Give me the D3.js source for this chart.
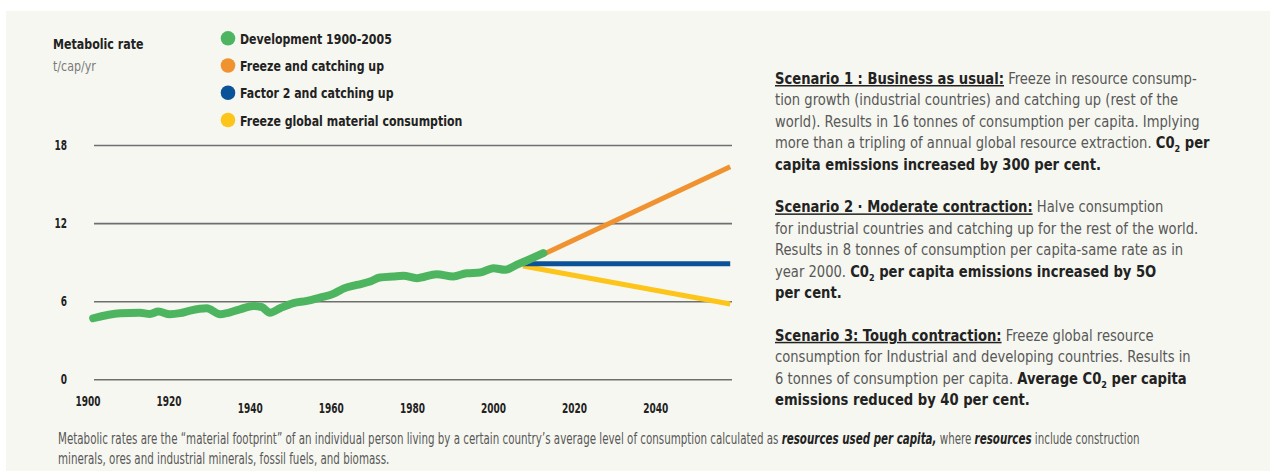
<!DOCTYPE html>
<html>
<head>
<meta charset="utf-8">
<script src="https://cdn.jsdelivr.net/npm/d3@7"></script>
<style>
  html, body { margin: 0; padding: 0; background: #ffffff; }
  svg { display: block; }
  text { font-family: 'DejaVu Sans Condensed', 'DejaVu Sans', sans-serif; }
</style>
</head>
<body>
<script>
// ---- data ----
var devYears = [1901.4, 1908, 1912.9, 1915.4, 1917.5, 1920.3, 1922.8, 1925.3, 1929.4, 1932.7,
                1937.6, 1940.9, 1943, 1945, 1947.5, 1950.8, 1954.1, 1957.3, 1960.6, 1963.1,
                1966.4, 1969.7, 1972.1, 1975.4, 1977.9, 1981.2, 1986.1, 1990.2, 1993.5, 1996.8,
                2000.1, 2003, 2005.8, 2009.1, 2012.4];
var devValues = [4.69, 5.08, 5.12, 5.02, 5.2, 5.0, 5.08, 5.28, 5.46, 5.0,
                 5.38, 5.64, 5.54, 5.12, 5.46, 5.85, 6.02, 6.28, 6.56, 6.97,
                 7.25, 7.51, 7.82, 7.9, 7.95, 7.77, 8.07, 7.9, 8.15, 8.2,
                 8.54, 8.41, 8.79, 9.23, 9.69];

var scenarioYears = [2007.4, 2058.5];
var freezeCatchingUp = [8.87, 16.33];
var factorTwo = [8.87, 8.87];
var freezeGlobal = [8.7, 5.79];

var yTicks = [0, 6, 12, 18];
var xTicks = [1900, 1920, 1940, 1960, 1980, 2000, 2020, 2040];

var legendLabels = ["Development 1900-2005", "Freeze and catching up",
                    "Factor 2 and catching up", "Freeze global material consumption"];
var legendColors = ["#4db560", "#f0922f", "#0a5399", "#fdc41a"];

// scenario text: [style, text] segments per line, [] = blank line
var scenarioLines = [
  [["h", "Scenario 1 : Business as usual:"], ["r", " Freeze in resource consump-"]],
  [["r", "tion growth (industrial countries) and catching up (rest of the"]],
  [["r", "world). Results in 16 tonnes of consumption per capita. Implying"]],
  [["r", "more than a tripling of annual global resource extraction. "], ["b", "C0"], ["s", "2"], ["b", " per"]],
  [["b", "capita emissions increased by 300 per cent."]],
  [],
  [["h", "Scenario 2 · Moderate contraction:"], ["r", " Halve consumption"]],
  [["r", "for industrial countries and catching up for the rest of the world."]],
  [["r", "Results in 8 tonnes of consumption per capita-same rate as in"]],
  [["r", "year 2000. "], ["b", "C0"], ["s", "2"], ["b", " per capita emissions increased by 5O"]],
  [["b", "per cent."]],
  [],
  [["h", "Scenario 3: Tough contraction:"], ["r", " Freeze global resource"]],
  [["r", "consumption for Industrial and developing countries. Results in"]],
  [["r", "6 tonnes of consumption per capita. "], ["b", "Average C0"], ["s", "2"], ["b", " per capita"]],
  [["b", "emissions reduced by 40 per cent."]]
];

var footLines = [
  [["r", "Metabolic rates are the \u201cmaterial footprint\u201d of an individual person living by a certain country\u2019s average level of consumption calculated as "],
   ["i", "resources used per capita,"], ["r", " where "], ["i", "resources"], ["r", " include construction"]],
  [["r", "minerals, ores and industrial minerals, fossil fuels, and biomass."]]
];

// ---- page ----
var W = 1270, H = 471;
var svg = d3.select("body").append("svg")
            .attr("width", W)
            .attr("height", H);

svg.append("rect")
   .attr("x", 6).attr("y", 11)
   .attr("width", W - 6).attr("height", H - 11)
   .attr("fill", "#f6f7f0");

var x = d3.scaleLinear().domain([1900, 2060]).range([87.5, 736.3]);
var y = d3.scaleLinear().domain([0, 18]).range([379.3, 145]);

var gridLeft = 94, gridRight = 732;

// squeeze text horizontally (the original uses a condensed face)
function squeeze (node, k) {
    var x0 = +node.getAttribute("x") || 0;
    d3.select(node).attr("transform", "translate(" + (x0 * (1 - k)) + ",0) scale(" + k + ",1)");
}
function widthOf (node) { return node.getBBox().width; }

// y axis + gridlines
var yAxis = svg.append("g")
               .attr("transform", "translate(" + gridLeft + ",0)")
               .call(d3.axisLeft(y).tickValues(yTicks).tickSize(-(gridRight - gridLeft)).tickPadding(27));
yAxis.select(".domain").remove();
yAxis.selectAll("line")
     .attr("stroke", "#6f6f6f")
     .attr("stroke-width", 1.6);
yAxis.selectAll("text")
     .attr("dy", "0.33em")
     .attr("font-size", 13.7)
     .attr("font-weight", "bold")
     .attr("fill", "#222")
     .style("font-family", "'DejaVu Sans Condensed', sans-serif");

// x axis labels (staggered like the original)
var xAxis = svg.append("g")
               .attr("transform", "translate(0," + y(0) + ")")
               .call(d3.axisBottom(x).tickValues(xTicks).tickSize(0).tickFormat(d3.format("d")));
xAxis.select(".domain").remove();
xAxis.selectAll("text")
     .attr("dy", 0)
     .attr("y", function (d) { return d < 1940 ? 27 : 33.5; })
     .attr("font-size", 13.7)
     .attr("font-weight", "bold")
     .attr("fill", "#222")
     .style("font-family", "'DejaVu Sans Condensed', sans-serif");

var tickK = 25 / widthOf(xAxis.select("text").node());
xAxis.selectAll("text").each(function () { squeeze(this, tickK); });
yAxis.selectAll("text").each(function () { squeeze(this, tickK); });

// lines
var line = d3.line()
             .x(function (d) { return x(d[0]); })
             .y(function (d) { return y(d[1]); });

function drawSeries (years, values, color, width) {
    svg.append("path")
       .datum(d3.zip(years, values))
       .attr("d", line)
       .attr("fill", "none")
       .attr("stroke", color)
       .attr("stroke-width", width)
       .attr("stroke-linejoin", "round");
}

drawSeries(scenarioYears, freezeGlobal, legendColors[3], 5);
drawSeries(scenarioYears, factorTwo, legendColors[2], 5);
drawSeries(scenarioYears, freezeCatchingUp, legendColors[1], 5);

svg.append("path")
   .datum(d3.zip(devYears, devValues))
   .attr("d", line.curve(d3.curveMonotoneX))
   .attr("fill", "none")
   .attr("stroke", legendColors[0])
   .attr("stroke-width", 8)
   .attr("stroke-linecap", "round")
   .attr("stroke-linejoin", "round");

// axis title
var title = svg.append("text")
   .attr("x", 53).attr("y", 49)
   .attr("font-size", 14.5)
   .attr("font-weight", "bold")
   .attr("fill", "#222")
   .text("Metabolic rate");
var unit = svg.append("text")
   .attr("x", 53).attr("y", 71.5)
   .attr("font-size", 14.5)
   .attr("fill", "#7a7a7a")
   .text("t/cap/yr");
var titleK = 90.7 / widthOf(title.node());
squeeze(title.node(), titleK);
squeeze(unit.node(), titleK);

// legend
var legendY = d3.scaleLinear().domain([0, 3]).range([38.3, 120]);
var legend = svg.selectAll(".legend")
                .data(legendLabels)
                .enter().append("g")
                .attr("class", "legend")
                .attr("transform", function (d, i) { return "translate(228," + legendY(i) + ")"; });
legend.append("circle")
      .attr("r", 7.3)
      .attr("fill", function (d, i) { return legendColors[i]; });
var legendText = legend.append("text")
      .attr("x", 12).attr("y", 5.5)
      .attr("font-size", 14.5)
      .attr("font-weight", "bold")
      .attr("fill", "#222")
      .text(function (d) { return d; });
var legendK = 152 / widthOf(legendText.node());
legendText.each(function () { squeeze(this, legendK); });

// rich text helper
function richLines (lines, x0, y0, lineHeight, size) {
    var g = svg.append("g");
    lines.forEach(function (segs, i) {
        var t = g.append("text")
                 .attr("x", x0)
                 .attr("y", y0 + i * lineHeight)
                 .attr("font-size", size);
        var shifted = false;
        segs.forEach(function (s) {
            var ts = t.append("tspan").text(s[1]);
            if (shifted) { ts.attr("dy", -4); shifted = false; }
            if (s[0] === "r") {
                ts.attr("fill", "#585858");
            } else if (s[0] === "h") {
                ts.attr("fill", "#222").attr("font-weight", "bold")
                  .style("text-decoration", "underline");
            } else if (s[0] === "b") {
                ts.attr("fill", "#222").attr("font-weight", "bold");
            } else if (s[0] === "s") {
                ts.attr("fill", "#222").attr("font-weight", "bold")
                  .attr("font-size", size * 0.62).attr("dy", 4);
                shifted = true;
            } else if (s[0] === "i") {
                ts.attr("fill", "#222").attr("font-weight", "bold")
                  .attr("font-style", "italic");
            }
        });
    });
    return g;
}

function fitGroup (g, x0, target) {
    var k = target / widthOf(g.select("text").node());
    g.attr("transform", "translate(" + (x0 * (1 - k)) + ",0) scale(" + k + ",1)");
}

var scen = richLines(scenarioLines, 775, 84, 21.4, 15);
fitGroup(scen, 775, 422);
var foot = richLines(footLines, 58, 444.5, 20, 15.5);
fitGroup(foot, 58, 1082);
</script>
</body>
</html>
